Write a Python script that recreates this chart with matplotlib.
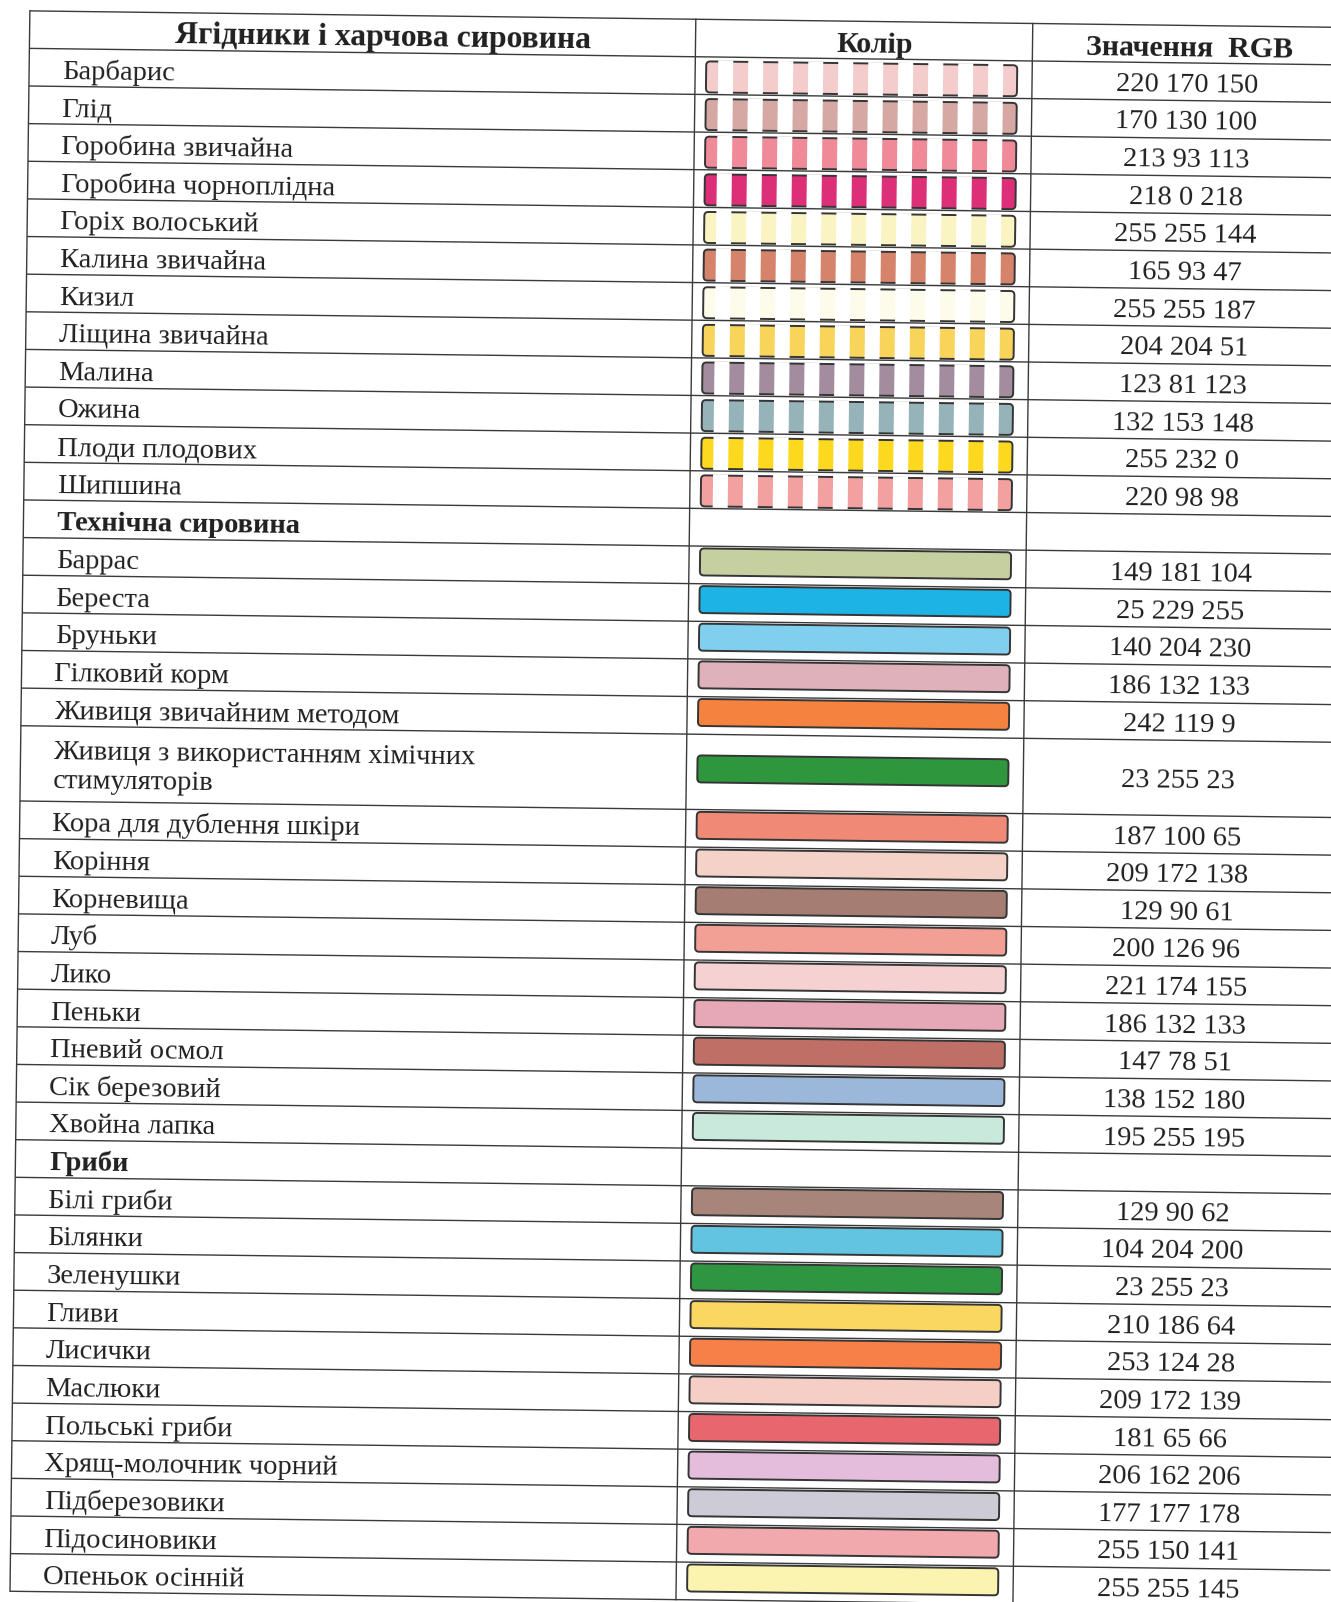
import matplotlib
matplotlib.use("Agg")
import matplotlib.pyplot as plt
from matplotlib.patches import FancyBboxPatch, Rectangle
from matplotlib.transforms import Affine2D

# column headers
col_headers = ["Ягідники і харчова сировина", "Колір", "Значення  RGB"]

# berries and food raw materials (striped swatches)
berry_names = ["Барбарис", "Глід", "Горобина звичайна", "Горобина чорноплідна",
               "Горіх волоський", "Калина звичайна", "Кизил", "Ліщина звичайна",
               "Малина", "Ожина", "Плоди плодових", "Шипшина"]
berry_rgb = ["220 170 150", "170 130 100", "213 93 113", "218 0 218",
             "255 255 144", "165 93 47", "255 255 187", "204 204 51",
             "123 81 123", "132 153 148", "255 232 0", "220 98 98"]
berry_colors = ["#f3cccb", "#d6a8a3", "#f18a98", "#dd2f77",
                "#faf3c2", "#d5836a", "#fdfbea", "#f8d45a",
                "#a48c9f", "#95b3b8", "#fcd91f", "#f3a0a0"]

# technical raw materials
tech_title = "Технічна сировина"
tech_names = ["Баррас", "Береста", "Бруньки", "Гілковий корм",
              "Живиця звичайним методом",
              "Живиця з використанням хімічних\nстимуляторів",
              "Кора для дублення шкіри", "Коріння", "Корневища", "Луб", "Лико",
              "Пеньки", "Пневий осмол", "Сік березовий", "Хвойна лапка"]
tech_rgb = ["149 181 104", "25 229 255", "140 204 230", "186 132 133",
            "242 119 9", "23 255 23", "187 100 65", "209 172 138",
            "129 90 61", "200 126 96", "221 174 155", "186 132 133",
            "147 78 51", "138 152 180", "195 255 195"]
tech_colors = ["#c5cf9f", "#1db3e5", "#80cfee", "#deb1bb",
               "#f5823f", "#2e963c", "#f08a76", "#f5d2c7",
               "#a67d72", "#f2a096", "#f6d1d1", "#e6a8b6",
               "#bf6f66", "#9bb7da", "#c9e9dc"]

# mushrooms
mush_title = "Гриби"
mush_names = ["Білі гриби", "Білянки", "Зеленушки", "Гливи", "Лисички",
              "Маслюки", "Польські гриби", "Хрящ-молочник чорний",
              "Підберезовики", "Підосиновики", "Опеньок осінній"]
mush_rgb = ["129 90 62", "104 204 200", "23 255 23", "210 186 64",
            "253 124 28", "209 172 139", "181 65 66", "206 162 206",
            "177 177 178", "255 150 141", "255 255 145"]
mush_colors = ["#a8857a", "#62c4e0", "#2e9641", "#fad761",
               "#f77f48", "#f5cfc6", "#e8666e", "#e3bddb",
               "#cdccd6", "#f2a9ad", "#fbf4b1"]

# layout (pixels, un-skewed page)
W, H = 1331, 1602
TOP, HEAD_BOTTOM, BOTTOM = 10.5, 48.0, 1591.0
X_LEFT, X_C1, X_C2, X_RIGHT = 30, 696, 1033, 1350
SW_X, SW_W = 707, 311
SKEW = 0.72  # the scanned page is slightly rotated
INK = "#1f1f1f"
LINE = "#3a3a3a"
FS = 20.5
FONT = "Liberation Serif"

rows = []
for n, v, c in zip(berry_names, berry_rgb, berry_colors):
    rows.append((n, v, c, "striped"))
rows.append((tech_title, "", None, "title"))
for n, v, c in zip(tech_names, tech_rgb, tech_colors):
    rows.append((n, v, c, "solid"))
rows.append((mush_title, "", None, "title"))
for n, v, c in zip(mush_names, mush_rgb, mush_colors):
    rows.append((n, v, c, "solid"))

units = sum(2 if "\n" in r[0] else 1 for r in rows)
row_h = (BOTTOM - HEAD_BOTTOM) / units

fig = plt.figure(figsize=(W / 100, H / 100), dpi=100)
ax = fig.add_axes([0, 0, 1, 1])
ax.set_xlim(0, W)
ax.set_ylim(H, 0)
ax.axis("off")
tr = Affine2D().rotate_deg(SKEW) + ax.transData


def hline(y):
    ax.plot([X_LEFT, X_RIGHT], [y, y], color=LINE, lw=1.0, transform=tr,
            solid_capstyle="butt", zorder=6)


def put(x, y, s, ha="left", bold=False, size=FS):
    ax.text(x, y, s, ha=ha, va="baseline", fontsize=size, color=INK,
            family=FONT, fontweight="bold" if bold else "normal",
            transform=tr, rotation=-SKEW, rotation_mode="anchor")


# frame
hline(TOP)
hline(HEAD_BOTTOM)
for x in (X_LEFT, X_C1, X_C2):
    ax.plot([x, x], [TOP, BOTTOM], color=LINE, lw=1.0, transform=tr, zorder=6)

# header
put(384, 41, col_headers[0], ha="center", bold=True, size=22.8)
put(875, 41, col_headers[1], ha="center", bold=True, size=21.5)
put(1190, 41, col_headers[2], ha="center", bold=True, size=21.5)

y = HEAD_BOTTOM
for name, val, color, kind in rows:
    h = row_h * (2 if "\n" in name else 1)
    mid = y + h / 2
    if kind == "title":
        put(64, y + 30, name, bold=True)
    else:
        lines = name.split("\n")
        if len(lines) == 1:
            put(63, y + 30, name)
        else:
            for i, ln in enumerate(lines):
                put(63, y + 33 + 28.5 * i, ln)
        put(1188, mid + 10, val, ha="center")

        if kind == "striped":
            sh = 31
            sy = y + 4.5
        else:
            sh = 27
            sy = mid - 3 - sh / 2
        box = FancyBboxPatch((SW_X, sy), SW_W, sh,
                             boxstyle="round,pad=0,rounding_size=4",
                             facecolor=color, edgecolor="#353535", lw=1.4,
                             transform=tr, zorder=3)
        ax.add_patch(box)
        if kind == "striped":
            for k in range(10):
                ax.add_patch(Rectangle((SW_X + 12 + 30 * k, sy - 1.3), 15, sh + 2.6,
                                       facecolor="white", edgecolor="none",
                                       transform=tr, zorder=4))
    y += h
    hline(y)

fig.savefig("out.png", dpi=100, facecolor="white")
